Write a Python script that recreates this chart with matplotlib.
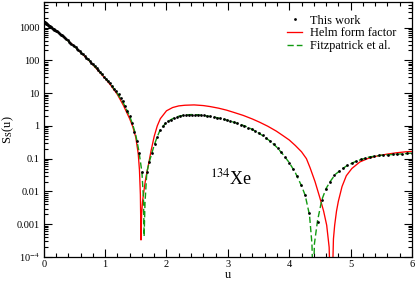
import numpy as np
import matplotlib
matplotlib.use("Agg")
import matplotlib.pyplot as plt
from matplotlib.ticker import MultipleLocator, LogLocator, FixedLocator, FixedFormatter, NullFormatter
from matplotlib.lines import Line2D

plt.rcParams['font.family'] = ['Liberation Serif', 'DejaVu Serif']
plt.rcParams['mathtext.fontset'] = 'stix'

# "This work": points sampled on a uniform grid in sqrt(u)
sqrt_u_step = 0.016
n_dots = 154
log_s_this_work = [
    3.18, 3.18, 3.18, 3.18, 3.17, 3.17, 3.17, 3.16, 3.16, 3.15,
    3.14, 3.14, 3.13, 3.12, 3.11, 3.10, 3.09, 3.08, 3.06, 3.05,
    3.04, 3.02, 3.01, 2.99, 2.97, 2.96, 2.94, 2.92, 2.90, 2.88,
    2.86, 2.84, 2.81, 2.78, 2.76, 2.73, 2.70, 2.67, 2.64, 2.61,
    2.57, 2.54, 2.51, 2.47, 2.44, 2.40, 2.36, 2.31, 2.27, 2.22,
    2.18, 2.13, 2.08, 2.04, 1.99, 1.93, 1.88, 1.82, 1.76, 1.70,
    1.63, 1.57, 1.50, 1.44, 1.37, 1.30, 1.22, 1.14, 1.06, 0.96,
    0.86, 0.75, 0.61, 0.46, 0.29, 0.08, -0.18, -0.47, -0.84, -1.41,
    -4.6, -1.41, -1.10, -0.82, -0.56, -0.33, -0.13, 0.00, 0.08, 0.14,
    0.19, 0.24, 0.28, 0.30, 0.32, 0.33, 0.34, 0.345, 0.345, 0.34,
    0.33, 0.32, 0.30, 0.29, 0.27, 0.25, 0.23, 0.20, 0.18, 0.15,
    0.11, 0.08, 0.04, 0.00, -0.05, -0.10, -0.16, -0.22, -0.29, -0.37,
    -0.46, -0.56, -0.67, -0.80, -0.95, -1.12, -1.30, -1.52, -1.80, -2.12,
    -2.67, -4.6, -2.93, -2.27, -1.92, -1.70, -1.50, -1.37, -1.28, -1.20,
    -1.13, -1.07, -1.02, -0.98, -0.95, -0.92, -0.90, -0.89, -0.88, -0.87,
    -0.86, -0.85, -0.84, -0.83,
]

# Helm form factor
u_helm = [0.0, 0.25, 0.5, 0.75, 1.0, 1.1, 1.2, 1.3, 1.4, 1.45,
          1.5, 1.54, 1.56, 1.575, 1.585, 1.595, 1.61, 1.635, 1.66, 1.70,
          1.75, 1.80, 1.85, 1.90, 2.0, 2.1, 2.2, 2.3, 2.45, 2.6,
          2.71, 2.85, 2.98, 3.1, 3.25, 3.4, 3.52, 3.65, 3.79, 3.9,
          4.0, 4.1, 4.2, 4.28, 4.34, 4.42, 4.5, 4.56, 4.61, 4.65,
          4.685, 4.72, 4.74, 4.77, 4.8, 4.86, 4.93, 5.02, 5.15, 5.3,
          5.45, 5.6, 5.75, 5.9, 6.0]
log_s_helm = [3.18, 2.83, 2.43, 1.97, 1.45, 1.22, 0.96, 0.62, 0.22, -0.02,
              -0.35, -0.85, -1.35, -2.1, -3.48, -2.7, -2.3, -1.95, -1.62, -1.25,
              -0.75, -0.32, 0.0, 0.22, 0.46, 0.56, 0.61, 0.63, 0.64, 0.62,
              0.59, 0.54, 0.48, 0.41, 0.32, 0.21, 0.11, -0.01, -0.16, -0.30,
              -0.43, -0.60, -0.79, -1.0, -1.28, -1.70, -2.2, -2.6, -3.03, -3.7,
              -6.0, -3.45, -3.03, -2.6, -2.3, -1.85, -1.52, -1.30, -1.10, -0.98,
              -0.91, -0.86, -0.82, -0.79, -0.78]

# Fitzpatrick et al.
u_fitz = [0.0, 0.25, 0.5, 0.75, 1.0, 1.1, 1.2, 1.3, 1.4, 1.45,
          1.5, 1.55, 1.6, 1.625, 1.636, 1.65, 1.68, 1.72, 1.76, 1.8,
          1.85, 1.9, 2.0, 2.1, 2.2, 2.3, 2.4, 2.5, 2.6, 2.7,
          2.8, 2.9, 3.0, 3.1, 3.2, 3.3, 3.4, 3.5, 3.6, 3.7,
          3.8, 3.9, 4.0, 4.1, 4.2, 4.26, 4.33, 4.37, 4.39, 4.41,
          4.46, 4.53, 4.6, 4.67, 4.75, 4.85, 4.95, 5.1, 5.3, 5.5,
          5.75, 6.0]
log_s_fitz = [3.18, 2.83, 2.43, 1.98, 1.47, 1.25, 0.99, 0.69, 0.30, 0.04,
              -0.28, -0.76, -1.41, -2.2, -3.37, -2.35, -1.41, -1.10, -0.84, -0.59,
              -0.33, -0.11, 0.11, 0.22, 0.295, 0.33, 0.345, 0.34, 0.32, 0.29,
              0.26, 0.215, 0.17, 0.11, 0.05, -0.02, -0.11, -0.215, -0.34, -0.48,
              -0.655, -0.875, -1.12, -1.43, -1.83, -2.12, -2.72, -3.6, -5.0, -3.6,
              -2.90, -2.26, -1.91, -1.69, -1.48, -1.33, -1.20, -1.07, -0.95, -0.895,
              -0.865, -0.83]

ytick_vals = [1e-4, 1e-3, 1e-2, 1e-1, 1, 10, 100, 1000]
ytick_labels = ['10$^{-4}$', '0.001', '0.01', '0.1', '1', '10', '100', '1000']

u_dots = (np.arange(n_dots) * sqrt_u_step) ** 2
s_dots = 10 ** np.array(log_s_this_work)

fig = plt.figure(figsize=(4.15, 2.81), dpi=100)
ax = fig.add_axes([0.1053, 0.0854, 0.8875, 0.9075])

red = '#ff0000'
green = '#109a10'

ax.plot(u_helm, 10 ** np.array(log_s_helm), color=red, lw=0.95)
ax.plot(u_fitz, 10 ** np.array(log_s_fitz), color=green, lw=1.0, dashes=(4.5, 2.2))
ax.plot(u_dots, s_dots, ls='none', marker='o', ms=2.0, color='black', mew=0)

ax.set_yscale('log')
ax.set_xlim(0, 6)
ax.set_ylim(1e-4, 10 ** 3.78)

ax.xaxis.set_major_locator(MultipleLocator(1))
ax.xaxis.set_minor_locator(MultipleLocator(0.2))
ax.yaxis.set_major_locator(FixedLocator(ytick_vals))
ax.yaxis.set_major_formatter(FixedFormatter(ytick_labels))
ax.yaxis.set_minor_locator(LogLocator(base=10, subs=np.arange(2, 10), numticks=20))
ax.yaxis.set_minor_formatter(NullFormatter())

ax.tick_params(which='both', direction='in', top=True, right=True, width=0.8, labelsize=7.5)
ax.tick_params(which='major', length=5.5, pad=3)
ax.tick_params(axis='x', which='major', pad=2.3)
ax.tick_params(which='minor', length=3)
for sp in ax.spines.values():
    sp.set_linewidth(0.9)

ax.set_xlabel('u', fontsize=8.8, labelpad=-0.2)
ax.set_ylabel(r'S$_\mathrm{S}$(u)', fontsize=9, labelpad=0.5)

ax.text(3.05, 0.016, r'$^{134}$Xe', fontsize=13, ha='center', va='baseline')

handles = [
    Line2D([], [], ls='none', marker='o', ms=2.0, color='black', mew=0),
    Line2D([], [], color=red, lw=0.95),
    Line2D([], [], color=green, lw=1.0, dashes=(4.5, 2.2)),
]
ax.legend(handles, ['This work', 'Helm form factor', 'Fitzpatrick et al.'],
          loc='upper left', bbox_to_anchor=(0.661, 0.95), frameon=False,
          fontsize=8.8, handlelength=1.25, handletextpad=0.65, labelspacing=0.05,
          borderpad=0, borderaxespad=0)

fig.savefig('out.png', dpi=100)
